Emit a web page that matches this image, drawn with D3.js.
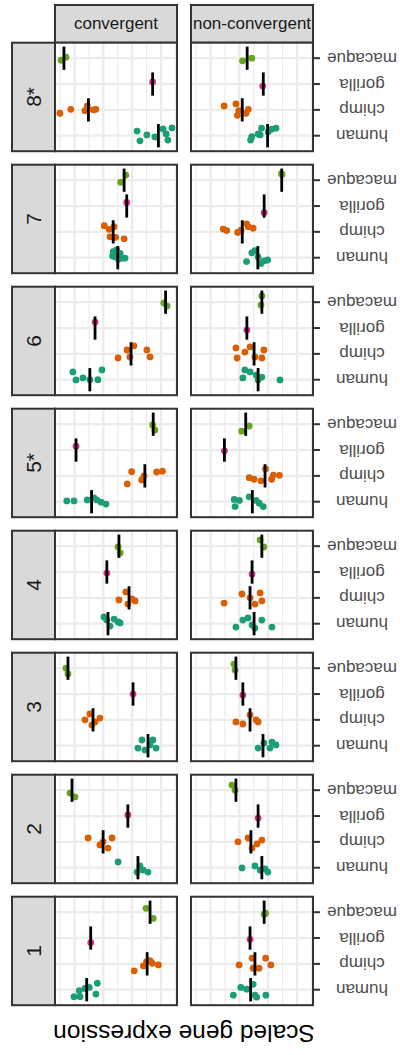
<!DOCTYPE html>
<html>
<head>
<meta charset="utf-8">
<script src="https://cdn.jsdelivr.net/npm/d3@7"></script>
<style>
  body { margin: 0; background: #fff; }
  svg { display: block; }
  text { font-family: "Liberation Sans", Arial, Helvetica, sans-serif; }
</style>
</head>
<body>
<svg id="chart" width="400" height="1055"></svg>
<script>
// Facet rows (genes) and columns (gene sets)
const genes = ["8*", "7", "6", "5*", "4", "3", "2", "1"];
const groups = ["convergent", "non-convergent"];
const species = ["macaque", "gorilla", "chimp", "human"];
const speciesColors = ["#66A61E", "#E7298A", "#D95F02", "#1B9E77"];

// x breaks of the shared expression scale
const xMajorBreaks = [-1.5, -0.5, 0.5, 1.5];
const xMinorBreaks = [-2, -1, 0, 1, 2];

// Individual samples: [species, scaled expression, vertical jitter (fraction of a row)]
const pts8c = [
  ["macaque", -1.97, 0.08], ["macaque", -1.80, -0.04],
  ["gorilla", 1.21, -0.08],
  ["chimp", -2.01, 0.13], ["chimp", -1.63, -0.02], ["chimp", -1.14, 0.03], ["chimp", -1.06, -0.15], ["chimp", -0.85, 0.00], ["chimp", -0.76, -0.02],
  ["human", 0.67, -0.18], ["human", 0.77, 0.20], ["human", 1.01, -0.03], ["human", 1.29, 0.05], ["human", 1.57, -0.26], ["human", 1.68, -0.07], ["human", 1.88, -0.30], ["human", 1.74, 0.17]
];
const pts8n = [
  ["macaque", -0.39, 0.10], ["macaque", -0.07, 0.00],
  ["gorilla", 0.31, 0.08],
  ["chimp", -1.03, -0.15], ["chimp", -0.62, -0.23], ["chimp", -0.52, 0.03], ["chimp", -0.57, 0.21], ["chimp", -0.27, 0.13], ["chimp", -0.19, -0.02],
  ["human", -0.07, 0.04], ["human", 0.22, -0.03], ["human", 0.27, -0.29], ["human", 0.50, -0.15], ["human", 0.62, -0.25], ["human", 0.77, -0.29], ["human", -0.11, 0.17], ["human", 0.15, -0.07]
];
const pts7c = [
  ["macaque", 0.28, -0.20], ["macaque", 0.10, 0.08],
  ["gorilla", 0.31, -0.14],
  ["chimp", -0.47, -0.24], ["chimp", -0.30, -0.10], ["chimp", -0.13, -0.20], ["chimp", -0.27, 0.19], ["chimp", -0.07, 0.21], ["chimp", 0.22, 0.27],
  ["human", -0.16, -0.23], ["human", -0.04, -0.30], ["human", 0.08, -0.17], ["human", -0.10, -0.04], ["human", 0.14, 0.02], ["human", 0.25, 0.02], ["human", -0.18, -0.07], ["human", 0.02, 0.06]
];
const pts7n = [
  ["macaque", 0.96, -0.25], ["macaque", 0.98, -0.22],
  ["gorilla", 0.36, 0.26],
  ["chimp", -1.06, -0.11], ["chimp", -0.94, -0.05], ["chimp", -0.56, 0.02], ["chimp", -0.44, -0.07], ["chimp", -0.25, -0.31], ["chimp", -0.19, -0.20], ["chimp", -0.02, -0.14],
  ["human", -0.25, 0.15], ["human", -0.07, -0.19], ["human", 0.04, -0.27], ["human", 0.25, 0.22], ["human", 0.36, 0.12], ["human", 0.48, 0.09], ["human", 0.15, -0.03]
];
const pts6c = [
  ["macaque", 1.60, 0.03], ["macaque", 1.71, 0.15],
  ["gorilla", -0.79, -0.23],
  ["chimp", 0.01, 0.16], ["chimp", 0.32, -0.15], ["chimp", 0.42, 0.12], ["chimp", 0.56, -0.31], ["chimp", 1.01, -0.15], ["chimp", 1.12, 0.12],
  ["human", -1.56, -0.30], ["human", -1.45, 0.01], ["human", -1.21, -0.07], ["human", -0.97, 0.00], ["human", -0.69, 0.00], ["human", -0.55, -0.38]
];
const pts6n = [
  ["macaque", 0.28, -0.24], ["macaque", 0.25, 0.11],
  ["gorilla", -0.24, 0.08],
  ["chimp", -0.62, -0.23], ["chimp", -0.58, 0.16], ["chimp", -0.31, -0.07], ["chimp", -0.13, -0.27], ["chimp", 0.04, 0.12], ["chimp", 0.28, 0.16], ["chimp", 0.35, -0.15],
  ["human", -0.31, -0.38], ["human", -0.38, -0.07], ["human", -0.13, -0.30], ["human", 0.08, -0.18], ["human", 0.15, 0.01], ["human", 0.28, -0.10], ["human", 0.91, 0.01]
];
const pts5c = [
  ["macaque", 1.21, 0.03], ["macaque", 1.29, 0.22],
  ["gorilla", -1.45, -0.15],
  ["chimp", 0.33, 0.31], ["chimp", 0.48, -0.16], ["chimp", 0.83, 0.16], ["chimp", 0.91, 0.00], ["chimp", 1.35, -0.15], ["chimp", 1.55, -0.18],
  ["human", -1.77, -0.03], ["human", -1.52, -0.03], ["human", -1.06, -0.07], ["human", -0.83, -0.15], ["human", -0.73, -0.07], ["human", -0.58, 0.02], ["human", -0.41, 0.09]
];
const pts5n = [
  ["macaque", -0.42, 0.27], ["macaque", -0.16, 0.07],
  ["gorilla", -1.02, 0.03],
  ["chimp", -0.16, 0.07], ["chimp", 0.01, 0.13], ["chimp", 0.25, 0.19], ["chimp", 0.41, -0.27], ["chimp", 0.62, 0.13], ["chimp", 0.68, -0.03], ["chimp", 0.89, -0.02],
  ["human", -0.68, -0.09], ["human", -0.50, -0.05], ["human", -0.65, 0.19], ["human", -0.16, -0.19], ["human", 0.08, -0.05], ["human", 0.19, 0.06], ["human", 0.33, 0.19]
];
const pts4c = [
  ["macaque", 0.01, 0.03], ["macaque", 0.08, 0.26],
  ["gorilla", -0.38, 0.04],
  ["chimp", 0.04, 0.08], ["chimp", 0.28, -0.23], ["chimp", 0.35, 0.24], ["chimp", 0.49, 0.04], ["chimp", 0.60, 0.12],
  ["human", -0.48, -0.26], ["human", -0.38, -0.14], ["human", -0.27, 0.09], ["human", -0.13, -0.18], ["human", 0.01, -0.07], ["human", 0.08, -0.03]
];
const pts4n = [
  ["macaque", 0.22, -0.24], ["macaque", 0.35, 0.03],
  ["gorilla", -0.06, 0.08],
  ["chimp", -1.03, 0.20], ["chimp", -0.41, -0.15], ["chimp", -0.13, 0.00], ["chimp", 0.04, 0.24], ["chimp", 0.22, -0.19], ["chimp", 0.28, 0.12],
  ["human", -0.62, 0.13], ["human", -0.38, -0.14], ["human", -0.20, -0.22], ["human", -0.06, 0.05], ["human", 0.04, 0.17], ["human", 0.28, -0.14], ["human", 0.63, 0.13]
];
const pts3c = [
  ["macaque", -1.80, 0.00], ["macaque", -1.73, 0.22],
  ["gorilla", 0.53, 0.00],
  ["chimp", -1.14, 0.00], ["chimp", -0.97, -0.23], ["chimp", -0.79, 0.08], ["chimp", -0.62, -0.07], ["chimp", -0.90, 0.20],
  ["human", 0.70, 0.09], ["human", 0.84, -0.22], ["human", 0.94, 0.17], ["human", 1.12, -0.03], ["human", 1.22, -0.22], ["human", 1.33, 0.09]
];
const pts3n = [
  ["macaque", -0.69, -0.16], ["macaque", -0.65, 0.07],
  ["gorilla", -0.38, 0.04],
  ["chimp", -0.62, 0.08], ["chimp", -0.38, 0.16], ["chimp", -0.13, -0.19], ["chimp", 0.08, 0.00], ["chimp", 0.15, 0.08],
  ["human", 0.15, 0.09], ["human", 0.35, -0.10], ["human", 0.56, 0.09], ["human", 0.63, -0.14], ["human", 0.77, -0.03]
];
const pts2c = [
  ["macaque", -1.66, 0.11], ["macaque", -1.49, 0.26],
  ["gorilla", 0.35, -0.04],
  ["chimp", -1.03, -0.15], ["chimp", -0.62, 0.12], ["chimp", -0.51, 0.00], ["chimp", -0.34, 0.24], ["chimp", -0.20, -0.15],
  ["human", 0.01, -0.22], ["human", 0.67, 0.17], ["human", 0.88, 0.09], ["human", 1.05, 0.17], ["human", 0.77, -0.07]
];
const pts2n = [
  ["macaque", -0.76, -0.20], ["macaque", -0.65, 0.00],
  ["gorilla", 0.15, 0.08],
  ["chimp", -0.55, 0.00], ["chimp", -0.20, -0.15], ["chimp", -0.06, 0.24], ["chimp", 0.11, 0.08], ["chimp", 0.28, -0.07],
  ["human", -0.41, 0.01], ["human", 0.04, -0.07], ["human", 0.22, 0.09], ["human", 0.39, 0.05], ["human", 0.49, 0.17]
];
const pts1c = [
  ["macaque", 0.98, -0.15], ["macaque", 1.23, 0.24],
  ["gorilla", -0.94, 0.18],
  ["chimp", 0.57, 0.27], ["chimp", 0.89, 0.08], ["chimp", 1.00, -0.09], ["chimp", 1.12, -0.12], ["chimp", 1.20, -0.02], ["chimp", 1.41, 0.04],
  ["human", -1.52, 0.27], ["human", -1.31, 0.27], ["human", -1.34, 0.04], ["human", -1.14, -0.05], ["human", -0.99, -0.09], ["human", -0.71, -0.25], ["human", -0.76, 0.17]
];
const pts1n = [
  ["macaque", 0.36, 0.08], ["macaque", 0.41, 0.04],
  ["gorilla", -0.13, 0.05],
  ["chimp", -0.51, 0.04], ["chimp", -0.06, -0.22], ["chimp", -0.02, 0.17], ["chimp", 0.18, 0.17], ["chimp", 0.41, -0.22], ["chimp", 0.59, 0.04],
  ["human", -0.71, 0.21], ["human", -0.45, -0.09], ["human", -0.25, -0.02], ["human", -0.02, -0.21], ["human", 0.04, 0.21], ["human", 0.10, 0.29], ["human", 0.42, 0.21]
];

// Group centre lines, in species order (macaque, gorilla, chimp, human)
const med8c = [-1.87, 1.21, -1.02, 1.41];
const med8n = [-0.23, 0.33, -0.40, 0.48];
const med7c = [0.22, 0.31, -0.16, 0.00];
const med7n = [0.97, 0.36, -0.40, 0.14];
const med6c = [1.66, -0.79, 0.46, -0.97];
const med6n = [0.28, -0.24, 0.01, 0.15];
const med5c = [1.23, -1.45, 0.94, -0.91];
const med5n = [-0.28, -1.02, 0.39, -0.05];
const med4c = [0.04, -0.38, 0.39, -0.34];
const med4n = [0.28, -0.06, -0.13, 0.01];
const med3c = [-1.73, 0.53, -0.86, 1.05];
const med3n = [-0.62, -0.38, -0.13, 0.32];
const med2c = [-1.59, 0.35, -0.51, 0.70];
const med2n = [-0.62, 0.15, -0.10, 0.28];
const med1c = [1.12, -0.94, 1.02, -1.08];
const med1n = [0.36, -0.13, 0.04, -0.11];

const pointSets = [[pts8c, pts8n], [pts7c, pts7n], [pts6c, pts6n], [pts5c, pts5n],
                   [pts4c, pts4n], [pts3c, pts3n], [pts2c, pts2n], [pts1c, pts1n]];
const medianSets = [[med8c, med8n], [med7c, med7n], [med6c, med6n], [med5c, med5n],
                    [med4c, med4n], [med3c, med3n], [med2c, med2n], [med1c, med1n]];

// ---- layout ----
const panelW = 122, panelH = 108.5, rowStep = 122;
const colX = [55, 191];
const firstTop = 42.7;
const stripTop = 5;
const rowStripX = 12;

const GRID = "#EBEBEB", BORDER = "#333333", STRIP = "#D9D9D9";

const svg = d3.select("#chart");
svg.append("rect").attr("width", 400).attr("height", 1055).attr("fill", "#fff");

const x = d3.scaleLinear().domain([-2.18, 2.056]).range([0, panelW]);
const y = d3.scalePoint().domain(species).range([0, panelH]).padding(0.6);
const color = d3.scaleOrdinal().domain(species).range(speciesColors);
const band = y.step();

// column strips
groups.forEach((g, j) => {
  svg.append("rect")
    .attr("x", colX[j]).attr("y", stripTop)
    .attr("width", panelW).attr("height", firstTop - stripTop)
    .attr("fill", STRIP).attr("stroke", BORDER).attr("stroke-width", 2);
  svg.append("text")
    .attr("x", colX[j] + panelW / 2).attr("y", 28.5)
    .attr("text-anchor", "middle")
    .attr("font-size", 17).attr("fill", "#1A1A1A")
    .text(g);
});

genes.forEach((gene, i) => {
  const top = firstTop + i * rowStep;

  // row strip on the left
  svg.append("rect")
    .attr("x", rowStripX).attr("y", top)
    .attr("width", colX[0] - rowStripX).attr("height", panelH)
    .attr("fill", STRIP).attr("stroke", BORDER).attr("stroke-width", 2);
  svg.append("text")
    .attr("transform", `translate(40.5,${top + panelH / 2}) rotate(-90)`)
    .attr("text-anchor", "middle")
    .attr("font-size", 21).attr("fill", "#1A1A1A")
    .text(gene);

  groups.forEach((grp, j) => {
    const p = svg.append("g").attr("transform", `translate(${colX[j]},${top})`);
    p.append("rect").attr("width", panelW).attr("height", panelH).attr("fill", "#fff");

    // grid
    p.selectAll(".minor").data(xMinorBreaks).join("line")
      .attr("x1", d => x(d)).attr("x2", d => x(d))
      .attr("y1", 0).attr("y2", panelH)
      .attr("stroke", GRID).attr("stroke-width", 1.1);
    p.selectAll(".major").data(xMajorBreaks).join("line")
      .attr("x1", d => x(d)).attr("x2", d => x(d))
      .attr("y1", 0).attr("y2", panelH)
      .attr("stroke", GRID).attr("stroke-width", 2.2);
    p.selectAll(".hgrid").data(species).join("line")
      .attr("x1", 0).attr("x2", panelW)
      .attr("y1", d => y(d)).attr("y2", d => y(d))
      .attr("stroke", GRID).attr("stroke-width", 2.2);

    // samples
    p.selectAll("circle").data(pointSets[i][j]).join("circle")
      .attr("cx", d => x(d[1]))
      .attr("cy", d => y(d[0]) + d[2] * band)
      .attr("r", 3.4)
      .attr("fill", d => color(d[0]));

    // centre lines
    p.selectAll(".med").data(species).join("line")
      .attr("x1", (d, k) => x(medianSets[i][j][k]))
      .attr("x2", (d, k) => x(medianSets[i][j][k]))
      .attr("y1", d => y(d) - 0.45 * band)
      .attr("y2", d => y(d) + 0.45 * band)
      .attr("stroke", "#000").attr("stroke-width", 2.8);

    p.append("rect").attr("width", panelW).attr("height", panelH)
      .attr("fill", "none").attr("stroke", BORDER).attr("stroke-width", 2);
  });

  // species axis on the right
  const ax = svg.append("g").attr("transform", `translate(${colX[1] + panelW},${top})`);
  species.forEach(s => {
    ax.append("line").attr("x1", 0).attr("x2", 7)
      .attr("y1", y(s)).attr("y2", y(s))
      .attr("stroke", BORDER).attr("stroke-width", 2);
    ax.append("text")
      .attr("transform", `translate(49,${y(s)}) rotate(180)`)
      .attr("text-anchor", "middle")
      .attr("dominant-baseline", "central")
      .attr("font-size", 17).attr("fill", "#4D4D4D")
      .text(s);
  });
});

// axis title
svg.append("text")
  .attr("transform", `translate(${colX[0] + (colX[1] + panelW - colX[0]) / 2},1025) rotate(180)`)
  .attr("text-anchor", "middle")
  .attr("font-size", 24.5).attr("fill", "#000")
  .text("Scaled gene expression");
</script>
</body>
</html>
